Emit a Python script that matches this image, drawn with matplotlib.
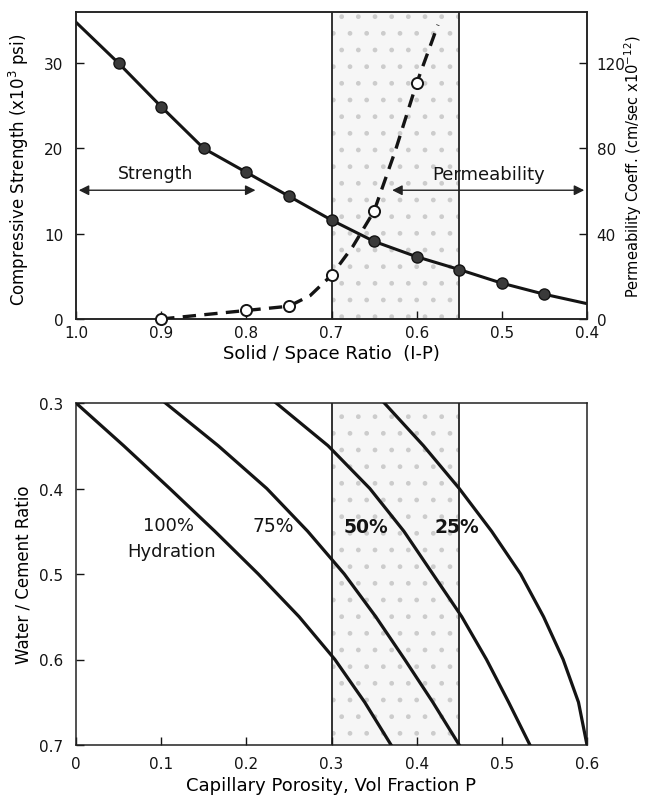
import matplotlib
matplotlib.use("Agg")
import matplotlib.pyplot as plt

plt.rcParams['font.family'] = ['DejaVu Sans']

# ---- Top panel data ----
solid_space_line = [1.0, 0.95, 0.9, 0.85, 0.8, 0.75, 0.7, 0.65, 0.6, 0.55, 0.5, 0.45, 0.4]
strength_line = [34.8, 30.0, 24.9, 20.0, 17.2, 14.4, 11.6, 9.1, 7.3, 5.8, 4.2, 2.9, 1.8]
strength_pts_x = [0.95, 0.9, 0.85, 0.8, 0.75, 0.7, 0.65, 0.6, 0.55, 0.5, 0.45]
strength_pts_y = [30.0, 24.9, 20.0, 17.2, 14.4, 11.6, 9.1, 7.3, 5.8, 4.2, 2.9]

perm_line_x = [0.9, 0.85, 0.8, 0.75, 0.725, 0.7, 0.675, 0.65, 0.625, 0.6, 0.575]
perm_line_y = [0, 2, 4, 6, 11, 20.5, 34, 50.6, 79, 110.6, 138]
perm_pts_x = [0.9, 0.8, 0.75, 0.7, 0.65, 0.6]
perm_pts_y = [0, 4, 6, 20.5, 50.6, 110.6]

top_xticks = [1.0, 0.9, 0.8, 0.7, 0.6, 0.5, 0.4]
top_xticklabels = ["1.0", "0.9", "0.8", "0.7", "0.6", "0.5", "0.4"]
left_yticks = [0, 10, 20, 30]
right_yticks = [0, 40, 80, 120]

# ---- Bottom panel data ----
wc_ratio = [0.3, 0.35, 0.4, 0.45, 0.5, 0.55, 0.6, 0.65, 0.7]
por_100 = [0.0, 0.056, 0.110, 0.163, 0.214, 0.262, 0.304, 0.339, 0.370]
por_75 = [0.105, 0.167, 0.224, 0.272, 0.315, 0.352, 0.386, 0.419, 0.450]
por_50 = [0.235, 0.296, 0.345, 0.385, 0.419, 0.453, 0.482, 0.508, 0.533]
por_25 = [0.362, 0.408, 0.450, 0.488, 0.522, 0.549, 0.572, 0.590, 0.600]

bot_xticks = [0, 0.1, 0.2, 0.3, 0.4, 0.5, 0.6]
bot_xticklabels = ["0", "0.1", "0.2", "0.3", "0.4", "0.5", "0.6"]
bot_yticks = [0.3, 0.4, 0.5, 0.6, 0.7]

INK = '#141414'
fig = plt.figure(figsize=(6.46, 8.04), dpi=100)

# ================= Top panel =================
ax1 = fig.add_axes([76/646, 1-320/804, (587-76)/646, (320-13)/804])
ax1.set_xlim(1.0, 0.4)
ax1.set_ylim(0, 36)
ax2 = ax1.twinx()
ax2.set_ylim(0, 144)

ax1.axvspan(0.7, 0.55, facecolor='#f6f6f6', edgecolor='#cccccc', hatch='.', lw=0, zorder=0)
ax1.axvline(0.7, color='#222222', lw=1.3, zorder=1)
ax1.axvline(0.55, color='#222222', lw=1.3, zorder=1)

ax1.plot(solid_space_line, strength_line, color=INK, lw=2.2, zorder=3)
ax1.plot(strength_pts_x, strength_pts_y, 'o', color='#3a3a3a', mec=INK, mew=1.0, ms=8, zorder=4)

ax2.plot(perm_line_x, perm_line_y, color=INK, lw=2.4, ls=(0, (4, 2.5)), zorder=3)
ax2.plot(perm_pts_x, perm_pts_y, 'o', mfc='white', mec=INK, mew=1.4, ms=8, zorder=4,
         clip_on=False)

ax1.annotate('', xy=(1.0, 15.1), xytext=(0.786, 15.1),
             arrowprops=dict(arrowstyle='<|-|>', color='#222222', lw=1.0, mutation_scale=15))
ax1.text(0.907, 17.1, 'Strength', fontsize=12.5, ha='center', va='center', color=INK)
ax1.annotate('', xy=(0.632, 15.1), xytext=(0.4, 15.1),
             arrowprops=dict(arrowstyle='<|-|>', color='#222222', lw=1.0, mutation_scale=15))
ax1.text(0.516, 17.0, 'Permeability', fontsize=13, ha='center', va='center', color=INK)

ax1.set_xticks(top_xticks)
ax1.set_xticklabels(top_xticklabels)
ax1.set_yticks(left_yticks)
ax2.set_yticks(right_yticks)
ax1.tick_params(axis='x', direction='in', length=6, width=1, labelsize=11, colors=INK, pad=4)
ax1.tick_params(axis='y', direction='in', length=6, width=1, labelsize=11, colors=INK, pad=9)
ax2.tick_params(axis='y', direction='in', length=6, width=1, labelsize=11, colors=INK, pad=7)
ax1.set_xlabel('Solid / Space Ratio  (I-P)', fontsize=13)
ax1.xaxis.set_label_coords(0.5, -0.082)
ax1.set_ylabel('Compressive Strength (x10$^3$ psi)', fontsize=12)
ax1.yaxis.set_label_coords(-0.088, 0.49)
ax2.set_ylabel('Permeability Coeff. (cm/sec x10$^{-12}$)', fontsize=10.5)
ax2.yaxis.set_label_coords(1.07, 0.5)
for a in (ax1, ax2):
    for s in a.spines.values():
        s.set_linewidth(1.1)
        s.set_color('#222222')

# ================= Bottom panel =================
ax3 = fig.add_axes([76/646, 1-746/804, (587-76)/646, (746-404)/804])
ax3.set_xlim(0, 0.6)
ax3.set_ylim(0.7, 0.3)
ax3.axvspan(0.3, 0.45, facecolor='#f6f6f6', edgecolor='#cccccc', hatch='.', lw=0, zorder=0)
ax3.axvline(0.3, color='#222222', lw=1.3, zorder=1)
ax3.axvline(0.45, color='#222222', lw=1.3, zorder=1)

for series in (por_100, por_75, por_50, por_25):
    ax3.plot(series, wc_ratio, color=INK, lw=2.3, zorder=3)

ax3.text(0.109, 0.443, '100%', fontsize=13, ha='center', va='center', color=INK)
ax3.text(0.112, 0.473, 'Hydration', fontsize=13, ha='center', va='center', color=INK)
ax3.text(0.232, 0.443, '75%', fontsize=13.5, ha='center', va='center', color=INK)
ax3.text(0.341, 0.444, '50%', fontsize=13.5, ha='center', va='center', color=INK, fontweight='bold')
ax3.text(0.447, 0.444, '25%', fontsize=13.5, ha='center', va='center', color=INK, fontweight='bold')

ax3.set_xticks(bot_xticks)
ax3.set_xticklabels(bot_xticklabels)
ax3.set_yticks(bot_yticks)
ax3.tick_params(axis='x', direction='in', length=6, width=1, labelsize=11, colors=INK, pad=8)
ax3.tick_params(axis='y', direction='in', length=6, width=1, labelsize=11, colors=INK, pad=9)
ax3.set_xlabel('Capillary Porosity, Vol Fraction P', fontsize=13)
ax3.xaxis.set_label_coords(0.5, -0.09)
ax3.set_ylabel('Water / Cement Ratio', fontsize=12)
ax3.yaxis.set_label_coords(-0.086, 0.5)
for s in ax3.spines.values():
    s.set_linewidth(1.1)
    s.set_color('#222222')

fig.savefig('out.png', dpi=100)
